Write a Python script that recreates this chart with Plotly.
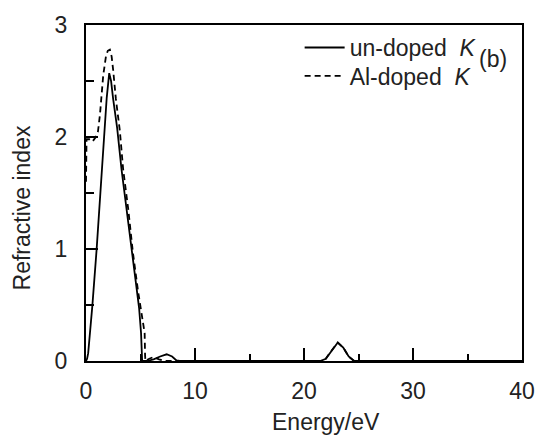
import plotly.graph_objects as go

# un-doped K (solid)
undoped_E = [0, 0.1, 0.2, 0.33, 0.58, 0.97, 1.13, 1.43, 1.65, 1.9, 2.13, 2.3, 2.49, 2.86, 3.26, 3.72,
             4.17, 4.47, 4.87, 5.05, 5.1, 5.15, 5.6, 6.2, 6.8, 7.4, 7.9, 8.3, 8.6,
             21.5, 22.0, 22.5, 23.1, 23.6, 24.1, 24.6, 40]
undoped_n = [0, 0.02, 0.07, 0.2, 0.49, 0.99, 1.23, 1.65, 2.0, 2.35, 2.57, 2.5, 2.34, 2.08, 1.71, 1.36,
             1.01, 0.77, 0.475, 0.25, 0.05, 0, 0, 0.015, 0.04, 0.06, 0.04, 0.005, 0,
             0, 0.02, 0.09, 0.165, 0.12, 0.04, 0, 0]

# Al-doped K (dashed)
aldoped_E = [0, 0.05, 0.3, 0.6, 0.9, 1.1, 1.28, 1.58, 1.83, 2.0, 2.19, 2.35, 2.49, 2.74, 3.1, 3.41,
             3.87, 4.3, 4.78, 5.23, 5.38, 5.42, 5.45, 5.8, 6.2, 6.7, 7.2,
             21.5, 22.0, 22.5, 23.1, 23.6, 24.1, 24.6, 40]
aldoped_n = [1.6, 1.98, 1.98, 1.96, 2.0, 2.05, 2.2, 2.55, 2.72, 2.77, 2.78, 2.72, 2.6, 2.34, 2.06, 1.71,
             1.36, 0.97, 0.62, 0.36, 0.25, 0.05, 0, 0.02, 0.035, 0.015, 0,
             0, 0.02, 0.09, 0.165, 0.12, 0.04, 0, 0]

FONT = "Liberation Sans, Arial, sans-serif"
FS = 23
TXT = "#222"

fig = go.Figure()
fig.add_trace(go.Scatter(x=undoped_E, y=undoped_n, mode="lines",
                         line=dict(color="black", width=1.8),
                         name="un-doped  <i>K</i>", legend="legend", showlegend=True))
fig.add_trace(go.Scatter(x=aldoped_E, y=aldoped_n, mode="lines",
                         line=dict(color="black", width=1.8, dash="6px,4px"),
                         name="Al-doped  <i>K</i>", legend="legend2", showlegend=True))

axis_common = dict(showline=True, linecolor="black", linewidth=2, mirror=True,
                   ticks="inside", tickwidth=2, tickcolor="black",
                   showgrid=False, zeroline=False,
                   tickfont=dict(family=FONT, size=FS, color=TXT))

fig.update_xaxes(range=[0, 40], dtick=10, ticklen=13,
                 minor=dict(dtick=5, ticks="inside", ticklen=7, tickwidth=2, tickcolor="black"),
                 ticklabelstandoff=8, **axis_common)
fig.update_yaxes(range=[0, 3], dtick=1, ticklen=12,
                 minor=dict(dtick=0.5, ticks="inside", ticklen=8, tickwidth=2, tickcolor="black"),
                 ticklabelstandoff=12, **axis_common)

leg_common = dict(xanchor="left", yanchor="middle", bgcolor="rgba(0,0,0,0)", borderwidth=0,
                  font=dict(family=FONT, size=FS, color=TXT), itemwidth=40)

fig.update_layout(
    width=547, height=441,
    showlegend=True,
    margin=dict(l=86, r=23, t=18, b=80),
    plot_bgcolor="white", paper_bgcolor="white",
    font=dict(family=FONT, size=FS, color=TXT),
    legend=dict(x=0.49, y=(361 - 41) / 343, **leg_common),
    legend2=dict(x=0.49, y=(361 - 70) / 343, **leg_common),
    annotations=[
        dict(text="Energy/eV", xref="paper", yref="paper",
             x=(327 - 86) / 438, y=-(423 - 361) / 343,
             xanchor="center", yanchor="middle", showarrow=False,
             font=dict(family=FONT, size=FS, color=TXT)),
        dict(text="Refractive index", xref="paper", yref="paper",
             x=(22 - 86) / 438, y=(361 - 205) / 343, textangle=-90,
             xanchor="center", yanchor="middle", showarrow=False,
             font=dict(family=FONT, size=FS, color=TXT)),
        dict(text="(b)", xref="paper", yref="paper",
             x=(495 - 86) / 438, y=(361 - 53) / 343,
             xanchor="center", yanchor="middle", showarrow=False,
             font=dict(family=FONT, size=FS, color=TXT)),
    ],
)

fig.write_html("out.html")
